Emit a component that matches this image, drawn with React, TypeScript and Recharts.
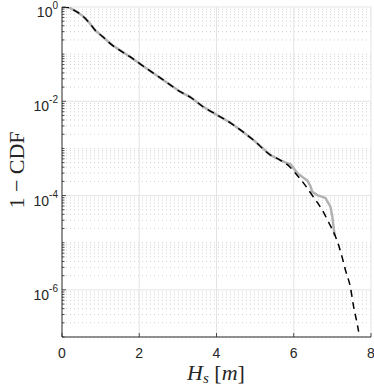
import React from "react";
import { LineChart, Line, XAxis, YAxis, ReferenceLine } from "recharts";

// fitted distribution (dashed black)
const fitH = [0, 0.1, 0.2, 0.34, 0.53, 0.71, 0.86, 1.04, 1.3, 1.77, 2.2, 2.63, 3.07, 3.32, 3.66, 4.02, 4.36, 4.7, 4.96, 5.4, 5.66, 5.92, 6.04, 6.25, 6.51, 6.74, 6.9, 7.08, 7.16, 7.25, 7.34, 7.47, 7.55, 7.64, 7.68];
const fitP = [1, 0.995, 0.96, 0.83, 0.65, 0.46, 0.32, 0.24, 0.155, 0.087, 0.049, 0.028, 0.0158, 0.0123, 0.0076, 0.0051, 0.0035, 0.0022, 0.0015, 7.2e-4, 5.6e-4, 3.9e-4, 3.0e-4, 1.86e-4, 9.3e-5, 4.9e-5, 2.75e-5, 1.35e-5, 8.9e-6, 5.0e-6, 2.6e-6, 1.1e-6, 4.4e-7, 1.95e-7, 1.3e-7];

// empirical exceedance (grey)
const empH = [0, 0.1, 0.2, 0.34, 0.53, 0.71, 0.86, 1.04, 1.3, 1.77, 2.2, 2.63, 3.07, 3.32, 3.66, 4.02, 4.36, 4.7, 4.96, 5.4, 5.66, 5.8, 5.92, 6.09, 6.25, 6.35, 6.43, 6.48, 6.61, 6.72, 6.82, 6.95, 7.0, 7.03, 7.06];
const empP = [1, 0.995, 0.96, 0.83, 0.65, 0.46, 0.32, 0.24, 0.155, 0.087, 0.049, 0.028, 0.0158, 0.0123, 0.0076, 0.0051, 0.0035, 0.0022, 0.0015, 7.2e-4, 5.6e-4, 5.0e-4, 4.6e-4, 3.0e-4, 2.4e-4, 2.1e-4, 1.6e-4, 1.2e-4, 1.02e-4, 9.5e-5, 8.9e-5, 5.8e-5, 3.5e-5, 2.2e-5, 1.4e-5];

const xTicks = [0, 2, 4, 6, 8];
const yMajor = [1, 1e-2, 1e-4, 1e-6];
const yMajorExp = [0, -2, -4, -6];
const decades = [1, 1e-1, 1e-2, 1e-3, 1e-4, 1e-5, 1e-6, 1e-7];
const mult = [1, 2, 3, 4, 5, 6, 7, 8, 9];

const fitData = fitH.map((h, i) => ({ h, p: fitP[i] }));
const empData = empH.map((h, i) => ({ h, p: empP[i] }));

const allY = decades.flatMap(d => mult.map(m => +(m * d).toPrecision(3))).filter(v => v <= 1 && v >= 1e-7);
const isMajor = (v: number) => yMajor.some(m => Math.abs(m - v) / m < 1e-6);
const minorY = allY.filter(v => !isMajor(v));

const axisColor = "#262626";
const sans = "'Liberation Sans', Arial, sans-serif";
const serif = "'Liberation Serif', 'Times New Roman', serif";

const W = 374, H = 387;
const M = { top: 7, right: 3, bottom: 30, left: 0 };

const YTick = (props: any) => {
  const { x, y, payload } = props;
  const v = payload.value;
  const idx = yMajor.findIndex(m => Math.abs(m - v) / m < 1e-6);
  const major = idx >= 0;
  return (
    <g>
      <line x1={x} x2={x + (major ? 4 : 2.5)} y1={y} y2={y} stroke={axisColor} strokeWidth={0.8} />
      {major && (
        <text x={x - 4} y={y + 5} textAnchor="end" fontFamily={sans} fontSize={14} fill={axisColor} dominantBaseline="central">
          10<tspan fontSize={10} dy={-7}>{yMajorExp[idx]}</tspan>
        </text>
      )}
    </g>
  );
};

const XTick = (props: any) => {
  const { x, y, payload } = props;
  return (
    <g>
      <line x1={x} x2={x} y1={y} y2={y - 4} stroke={axisColor} strokeWidth={0.8} />
      <text x={x} y={y + 16} textAnchor="middle" fontFamily={sans} fontSize={14} fill={axisColor} dominantBaseline="central">
        {payload.value}
      </text>
    </g>
  );
};

export default function App() {
  return (
    <div style={{ position: "absolute", left: 0, top: 0, width: W, height: H, background: "#fff" }}>
      <LineChart width={W} height={H} margin={M}>
        {minorY.map(v => (
          <ReferenceLine key={"m" + v} y={v} stroke="#d2d2d2" strokeDasharray="1 3" strokeWidth={1} />
        ))}
        {yMajor.map(v => (
          <ReferenceLine key={"M" + v} y={v} stroke="#e4e4e4" strokeWidth={1} />
        ))}
        {xTicks.slice(1).map(v => (
          <ReferenceLine key={"x" + v} x={v} stroke="#e4e4e4" strokeWidth={1} />
        ))}
        <XAxis
          dataKey="h"
          type="number"
          domain={[0, 8]}
          ticks={xTicks}
          interval={0}
          allowDataOverflow
          height={20}
          tickSize={0}
          tickMargin={0}
          tickLine={false}
          tick={<XTick />}
          axisLine={{ stroke: axisColor, strokeWidth: 1 }}
        />
        <YAxis
          dataKey="p"
          type="number"
          scale="log"
          domain={[1e-7, 1]}
          ticks={allY}
          interval={0}
          allowDataOverflow
          width={62}
          tickSize={0}
          tickMargin={0}
          tickLine={false}
          tick={<YTick />}
          axisLine={{ stroke: axisColor, strokeWidth: 1 }}
        />
        <Line data={empData} dataKey="p" type="linear" stroke="#b3b3b3" strokeWidth={2.5} dot={false} isAnimationActive={false} />
        <Line data={fitData} dataKey="p" type="monotone" stroke="#000" strokeWidth={1.5} strokeDasharray="7 5" dot={false} isAnimationActive={false} />
      </LineChart>
      <svg width={W} height={H} style={{ position: "absolute", left: 0, top: 0, pointerEvents: "none" }}>
        <text transform="translate(16,170) rotate(-90)" textAnchor="middle" dominantBaseline="central" fontFamily={serif} fontSize={22} fill={axisColor}>
          1 − CDF
        </text>
        <text x={216} y={380} textAnchor="middle" fontFamily={serif} fontSize={22} fill={axisColor}>
          <tspan fontStyle="italic">H</tspan>
          <tspan fontStyle="italic" fontSize={15} dy={3}>s</tspan>
          <tspan dy={-3}>{"  ["}</tspan>
          <tspan fontStyle="italic">m</tspan>
          <tspan>]</tspan>
        </text>
      </svg>
    </div>
  );
}
